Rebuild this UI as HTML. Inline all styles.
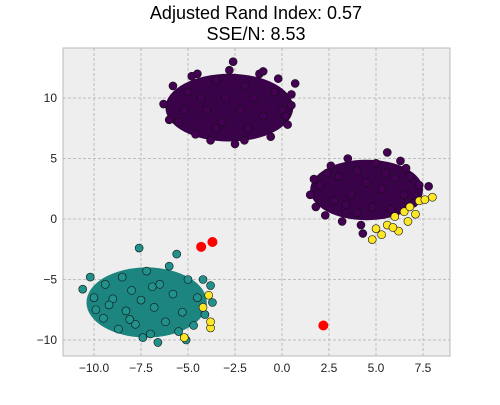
<!DOCTYPE html>
<html><head><meta charset="utf-8"><style>
body{margin:0;background:#fff;width:500px;height:400px;overflow:hidden;font-family:"Liberation Sans","DejaVu Sans",sans-serif}
</style></head><body>
<svg id="chart" width="500" height="400" viewBox="0 0 500 400" xmlns="http://www.w3.org/2000/svg">
<text x="256" y="19" text-anchor="middle" font-size="18" fill="#000">Adjusted Rand Index: 0.57</text>
<text x="256" y="40" text-anchor="middle" font-size="18" fill="#000">SSE/N: 8.53</text>
<rect x="63" y="48" width="387" height="308" fill="#eeeeee" stroke="#bbb"/>
<g id="grid"></g><g id="blobs"></g><g id="points"></g><g id="ticks"></g>
</svg>
<script>
const xTicks=[-10,-7.5,-5,-2.5,0,2.5,5,7.5];
const xTickLabels=["−10.0","−7.5","−5.0","−2.5","0.0","2.5","5.0","7.5"];
const yTicks=[10,5,0,-5,-10];
const yTickLabels=["10","5","0","−5","−10"];
const clusterCenters=[[-2.8,9.2],[4.5,2.4],[-7.2,-6.9]];
const clusterSpreads=[[3.4,2.8],[3.0,2.5],[3.2,2.9]];
const clusterColors=["#3a0249","#3a0249","#1d8580"];
const purpleTop=[[-6.3,9.5],[-5.8,11],[-5.5,8],[-5,10.5],[-4.6,7],[-4.5,12],[-4,9],[-3.8,6.5],[-3.5,11.5],[-3.2,8],[-3,10],[-2.8,12.3],[-2.5,6.2],[-2.2,9],[-2,11],[-1.8,7.5],[-1.5,10],[-1.2,12],[-1,8.5],[-0.6,6.8],[-0.4,10.5],[0,9],[0.3,7.8],[0.5,10.3],[0.7,11.2],[-4.3,10],[-5.2,9],[-2.6,13],[-1,12.2],[-3.5,7.5],[-0.2,11.6],[-6,8.2],[0.2,8.5],[-4.8,11.8],[-2,6.5],[0.5,9.4]];
const purpleRight=[[1.5,2],[1.7,3.3],[1.8,1],[2,2.8],[2.3,0.3],[2.6,4.4],[2.8,1.5],[3,3.5],[3.2,-0.2],[3.5,5],[3.7,2],[4,0.5],[4,4],[4.3,-1.2],[4.5,3],[4.8,1],[5,4.6],[5.3,2.5],[5.6,5.5],[5.8,0.8],[6,3.4],[6.3,4.8],[6.5,2],[6.8,3.5],[7,1.3],[7.3,2.8],[7.8,2.7],[3.4,1.2],[5.5,3.8],[2.4,3.8],[6.6,4.2],[4.2,-0.5]];
const yellowPts=[[5,-0.8],[4.8,-1.7],[5.6,-0.5],[6,0.2],[6.2,-1],[6.5,0.6],[6.8,1],[7.1,0.4],[7.3,1.5],[7.6,1.6],[8,1.8],[5.3,-1.3],[6.7,-0.2],[5.9,-0.7],[-3.8,-9],[-3.8,-8.5],[-5.2,-9.8],[-4.2,-7.3],[-3.9,-6.3]];
const tealPts=[[-10.6,-5.8],[-10.2,-4.8],[-10,-6.5],[-9.9,-7.5],[-9.5,-8.2],[-9.4,-5.4],[-9,-6.6],[-8.7,-9.1],[-8.5,-4.8],[-8.3,-7.6],[-8,-5.9],[-7.8,-8.7],[-7.6,-2.4],[-7.5,-6.7],[-7.2,-4.3],[-7,-9.5],[-6.8,-7.3],[-6.6,-10.2],[-6.5,-5.4],[-6.2,-8.5],[-6,-3.9],[-5.8,-6.2],[-5.6,-2.9],[-5.5,-9.3],[-5.3,-7.7],[-5,-5],[-4.7,-8.8],[-4.5,-6.5],[-4.2,-5],[-4.1,-7.9],[-3.7,-6.9],[-3.8,-5.5],[-9.2,-7.1],[-8.1,-8.3],[-6.9,-5.6],[-7.4,-9.8],[-5.1,-10]];
const centroids=[[-4.3,-2.3],[-3.7,-1.9],[2.2,-8.8]];
const X0=282,XS=18.8,Y0=219,YS=12.1;
const sx=v=>X0+v*XS, sy=v=>Y0-v*YS;
const NS="http://www.w3.org/2000/svg";
function mk(p,t,a){const e=document.createElementNS(NS,t);for(const k in a)e.setAttribute(k,a[k]);p.appendChild(e);return e;}
const grid=document.getElementById('grid'),ticks=document.getElementById('ticks'),blobs=document.getElementById('blobs'),pts=document.getElementById('points');
xTicks.forEach((v,i)=>{
 const l=mk(grid,'line',{x1:sx(v),x2:sx(v),y1:48,y2:356,stroke:'#b0b0b0','stroke-dasharray':'3,2','stroke-width':0.8});
 
 
 const t=mk(ticks,'text',{x:sx(v),y:372,'text-anchor':'middle','font-size':12,fill:'#222'});
 t.textContent=xTickLabels[i];
 
 
});
yTicks.forEach((v,i)=>{
 const l=mk(grid,'line',{x1:63,x2:450,y1:sy(v),y2:sy(v),stroke:'#b0b0b0','stroke-dasharray':'3,2','stroke-width':0.8});
 
 
 const t=mk(ticks,'text',{x:57,y:sy(v)+4,'text-anchor':'end','font-size':12,fill:'#222'});
 t.textContent=yTickLabels[i];
 
 
});
clusterCenters.forEach((c,i)=>{
 const e=mk(blobs,'ellipse',{cx:sx(c[0]),cy:sy(c[1]),rx:clusterSpreads[i][0]*XS,ry:clusterSpreads[i][1]*YS,fill:clusterColors[i]});
 
 
});
function drawPts(arr,col,name){arr.forEach(p=>{
 const c=mk(pts,'circle',{cx:sx(p[0]),cy:sy(p[1]),r:4,fill:col,stroke:'#111','stroke-width':0.6});
 
 
});}
drawPts(tealPts,'#21918c','teal-point');
drawPts(purpleTop,'#440154','purple-point');
drawPts(purpleRight,'#440154','purple-point');
drawPts(yellowPts,'#fde725','yellow-point');
centroids.forEach(p=>{
 const c=mk(pts,'circle',{cx:sx(p[0]),cy:sy(p[1]),r:5,fill:'#ff0000'});
 
 
});
</script>
</body></html>
